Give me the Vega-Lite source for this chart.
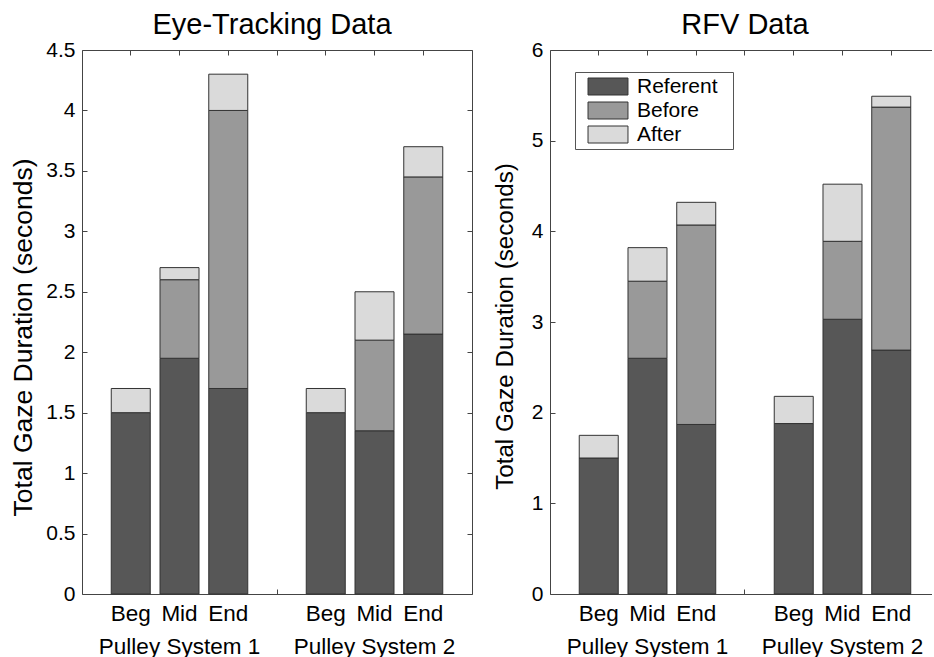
{
  "$schema": "https://vega.github.io/schema/vega-lite/v6.json",
  "padding": {"left": 10, "top": 11, "right": 0, "bottom": 0},
  "background": "white",
  "bounds": "flush",
  "spacing": 78,
  "config": {
    "font": "Liberation Sans",
    "view": {"stroke": null},
    "axis": {
      "domainColor": "#444",
      "tickColor": "#444",
      "tickSize": -5,
      "labelFontSize": 21,
      "labelColor": "black",
      "titleColor": "black",
      "titleFontWeight": "normal",
      "grid": false,
      "labelFont": "Liberation Sans",
      "titleFont": "Liberation Sans"
    },
    "title": {"fontSize": 29, "fontWeight": "normal", "color": "black", "baseline": "alphabetic", "offset": -1, "frame": "group", "font": "Liberation Sans"}
  },
  "datasets": {
    "eye": [
      {"slot": "Beg 1", "part": "Referent", "rank": 1, "value": 1.5},
      {"slot": "Beg 1", "part": "After", "rank": 3, "value": 0.2},
      {"slot": "Mid 1", "part": "Referent", "rank": 1, "value": 1.95},
      {"slot": "Mid 1", "part": "Before", "rank": 2, "value": 0.65},
      {"slot": "Mid 1", "part": "After", "rank": 3, "value": 0.1},
      {"slot": "End 1", "part": "Referent", "rank": 1, "value": 1.7},
      {"slot": "End 1", "part": "Before", "rank": 2, "value": 2.3},
      {"slot": "End 1", "part": "After", "rank": 3, "value": 0.3},
      {"slot": "Beg 2", "part": "Referent", "rank": 1, "value": 1.5},
      {"slot": "Beg 2", "part": "After", "rank": 3, "value": 0.2},
      {"slot": "Mid 2", "part": "Referent", "rank": 1, "value": 1.35},
      {"slot": "Mid 2", "part": "Before", "rank": 2, "value": 0.75},
      {"slot": "Mid 2", "part": "After", "rank": 3, "value": 0.4},
      {"slot": "End 2", "part": "Referent", "rank": 1, "value": 2.15},
      {"slot": "End 2", "part": "Before", "rank": 2, "value": 1.3},
      {"slot": "End 2", "part": "After", "rank": 3, "value": 0.25}
    ],
    "rfv": [
      {"slot": "Beg 1", "part": "Referent", "rank": 1, "value": 1.5},
      {"slot": "Beg 1", "part": "After", "rank": 3, "value": 0.25},
      {"slot": "Mid 1", "part": "Referent", "rank": 1, "value": 2.6},
      {"slot": "Mid 1", "part": "Before", "rank": 2, "value": 0.85},
      {"slot": "Mid 1", "part": "After", "rank": 3, "value": 0.37},
      {"slot": "End 1", "part": "Referent", "rank": 1, "value": 1.87},
      {"slot": "End 1", "part": "Before", "rank": 2, "value": 2.2},
      {"slot": "End 1", "part": "After", "rank": 3, "value": 0.25},
      {"slot": "Beg 2", "part": "Referent", "rank": 1, "value": 1.88},
      {"slot": "Beg 2", "part": "After", "rank": 3, "value": 0.3},
      {"slot": "Mid 2", "part": "Referent", "rank": 1, "value": 3.03},
      {"slot": "Mid 2", "part": "Before", "rank": 2, "value": 0.86},
      {"slot": "Mid 2", "part": "After", "rank": 3, "value": 0.63},
      {"slot": "End 2", "part": "Referent", "rank": 1, "value": 2.69},
      {"slot": "End 2", "part": "Before", "rank": 2, "value": 2.68},
      {"slot": "End 2", "part": "After", "rank": 3, "value": 0.12}
    ]
  },
  "hconcat": [
    {
      "width": 390,
      "height": 544,
      "title": {"text": "Eye-Tracking Data", "dx": -5},
      "data": {"name": "eye"},
      "layer": [
        {
          "mark": {"type": "bar", "stroke": "#333", "strokeWidth": 1},
          "encoding": {
            "x": {
              "field": "slot", "type": "nominal",
              "scale": {"domain": ["Beg 1", "Mid 1", "End 1", "gap", "Beg 2", "Mid 2", "End 2"], "paddingInner": 0.2, "paddingOuter": 0.6},
              "axis": {
                "orient": "bottom", "title": null, "labelAngle": 0, "labelFontSize": 22.5, "labelLineHeight": 33, "labelPadding": 13,
                "labelExpr": "datum.value == 'Mid 1' ? ['Mid', 'Pulley System 1'] : datum.value == 'Mid 2' ? ['Mid', 'Pulley System 2'] : datum.value == 'gap' ? '' : split(datum.value, ' ')[0]"
              }
            },
            "y": {
              "field": "value", "type": "quantitative", "stack": "zero",
              "scale": {"domain": [0, 4.5], "nice": false},
              "axis": {"title": "Total Gaze Duration (seconds)", "titleFontSize": 26.5, "titlePadding": 8, "titleY": 287, "values": [0, 0.5, 1, 1.5, 2, 2.5, 3, 3.5, 4, 4.5], "format": "~g", "labelPadding": 12}
            },
            "color": {
              "field": "part", "type": "nominal",
              "scale": {"domain": ["Referent", "Before", "After"], "range": ["#575757", "#999999", "#dadada"]},
              "legend": null
            },
            "order": {"field": "rank", "type": "quantitative"}
          }
        },
        {
          "mark": {"type": "bar", "opacity": 0},
          "encoding": {
            "x": {
              "field": "slot", "type": "nominal",
              "scale": {"domain": ["Beg 1", "Mid 1", "End 1", "gap", "Beg 2", "Mid 2", "End 2"], "paddingInner": 0.2, "paddingOuter": 0.6},
              "axis": {"orient": "top", "labels": false, "title": null, "minExtent": 0, "maxExtent": 0}
            },
            "y": {
              "field": "value", "type": "quantitative", "stack": "zero",
              "scale": {"domain": [0, 4.5], "nice": false},
              "axis": {"orient": "right", "labels": false, "title": null, "minExtent": 0, "maxExtent": 0, "values": [0, 0.5, 1, 1.5, 2, 2.5, 3, 3.5, 4, 4.5]}
            }
          }
        }
      ],
      "resolve": {"axis": {"x": "independent", "y": "independent"}}
    },
    {
      "width": 382,
      "height": 544,
      "title": {"text": "RFV Data", "dx": 4},
      "data": {"name": "rfv"},
      "layer": [
        {
          "mark": {"type": "bar", "stroke": "#333", "strokeWidth": 1},
          "encoding": {
            "x": {
              "field": "slot", "type": "nominal",
              "scale": {"domain": ["Beg 1", "Mid 1", "End 1", "gap", "Beg 2", "Mid 2", "End 2"], "paddingInner": 0.2, "paddingOuter": 0.518, "align": 0.579},
              "axis": {
                "orient": "bottom", "title": null, "labelAngle": 0, "labelFontSize": 22.5, "labelLineHeight": 33, "labelPadding": 13,
                "labelExpr": "datum.value == 'Mid 1' ? ['Mid', 'Pulley System 1'] : datum.value == 'Mid 2' ? ['Mid', 'Pulley System 2'] : datum.value == 'gap' ? '' : split(datum.value, ' ')[0]"
              }
            },
            "y": {
              "field": "value", "type": "quantitative", "stack": "zero",
              "scale": {"domain": [0, 6], "nice": false},
              "axis": {"title": "Total Gaze Duration (seconds)", "titleFontSize": 24.2, "titlePadding": 14, "titleY": 276, "values": [0, 1, 2, 3, 4, 5, 6], "format": "~g", "labelPadding": 12}
            },
            "color": {
              "field": "part", "type": "nominal",
              "scale": {"domain": ["Referent", "Before", "After"], "range": ["#575757", "#999999", "#dadada"]},
              "legend": {
                "orient": "none", "legendX": 25, "legendY": 22, "title": null,
                "symbolType": "M-3.18,0M14,0M-2.35,-1H2.35V1H-2.35Z", "symbolSize": 289,
                "symbolStrokeColor": "#333", "symbolStrokeWidth": 1, "symbolOffset": 18.5,
                "labelOffset": 18.5, "labelFontSize": 21, "labelColor": "black",
                "strokeColor": "#555", "padding": 4, "rowPadding": 2, "fillColor": "white"
              }
            },
            "order": {"field": "rank", "type": "quantitative"}
          }
        },
        {
          "mark": {"type": "bar", "opacity": 0},
          "encoding": {
            "x": {
              "field": "slot", "type": "nominal",
              "scale": {"domain": ["Beg 1", "Mid 1", "End 1", "gap", "Beg 2", "Mid 2", "End 2"], "paddingInner": 0.2, "paddingOuter": 0.518, "align": 0.579},
              "axis": {"orient": "top", "labels": false, "title": null, "minExtent": 0, "maxExtent": 0}
            },
            "y": {
              "field": "value", "type": "quantitative", "stack": "zero",
              "scale": {"domain": [0, 6], "nice": false},
              "axis": null
            }
          }
        }
      ],
      "resolve": {"axis": {"x": "independent", "y": "independent"}}
    }
  ],
  "resolve": {"scale": {"color": "independent", "x": "independent", "y": "independent"}, "legend": {"color": "independent"}}
}
